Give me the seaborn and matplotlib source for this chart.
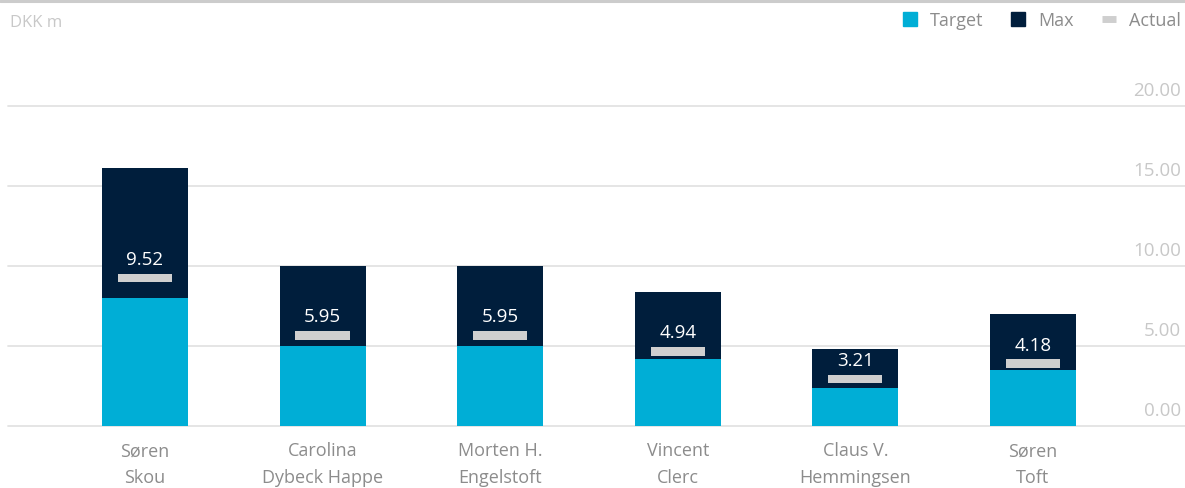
import matplotlib
matplotlib.use("Agg")
import matplotlib.pyplot as plt
from matplotlib.lines import Line2D
import matplotlib.transforms as mtransforms
import pandas as pd
import seaborn as sns

# ---------------------------------------------------------------------------
# Data (DKK m)
# ---------------------------------------------------------------------------
names = ["Søren\nSkou", "Carolina\nDybeck Happe", "Morten H.\nEngelstoft",
         "Vincent\nClerc", "Claus V.\nHemmingsen", "Søren\nToft"]
target = [8.0, 5.0, 5.0, 4.2, 2.4, 3.5]
max_pay = [16.1, 10.0, 10.0, 8.4, 4.8, 7.0]
actual = [9.52, 5.95, 5.95, 4.94, 3.21, 4.18]
y_ticks = [0, 5, 10, 15, 20]

TARGET_C = "#00AED6"
MAX_C = "#001E3C"
ACTUAL_C = "#CFCFCF"
GRID_C = "#E3E3E3"
TICK_C = "#C8C8C8"
LABEL_C = "#8C8C8C"
FONT = ["Open Sans", "DejaVu Sans"]

sns.set_theme(style="white")
plt.rcParams["font.family"] = FONT

df = pd.DataFrame({"name": names, "target": target, "max": max_pay, "actual": actual})

W, H = 1185, 489
fig = plt.figure(figsize=(W / 100, H / 100), dpi=100)
ax = fig.add_axes([8 / W, 62 / H, 1177 / W, 320 / H])

BAR_W = 0.484
sns.barplot(data=df, x="name", y="max", color=MAX_C, width=BAR_W,
            saturation=1, linewidth=0, ax=ax, zorder=3)
sns.barplot(data=df, x="name", y="target", color=TARGET_C, width=BAR_W,
            saturation=1, linewidth=0, ax=ax, zorder=4)

# actual marker: thin light-grey bar sitting just under the value
MARK_H = 0.55
xs = range(len(names))
ax.bar(xs, [MARK_H] * len(names), bottom=[a - MARK_H for a in actual],
       width=BAR_W * 0.63, color=ACTUAL_C, linewidth=0, zorder=5)
for x, a in zip(xs, actual):
    ax.annotate(f"{a:.2f}", (x, a), xytext=(0, 4), textcoords="offset points",
                ha="center", va="bottom", color="white", fontsize=13.5, zorder=6)

ax.set_xlim(-0.771, 5.856)
ax.set_ylim(0, 20)
ax.set_xlabel("")
ax.set_ylabel("")
for s in ax.spines.values():
    s.set_visible(False)

# grid + right-side labels sitting above each line
ax.set_yticks(y_ticks)
ax.set_yticklabels([])
ax.tick_params(axis="y", length=0)
fig_x_data_y = mtransforms.blended_transform_factory(fig.transFigure, ax.transData)
for t in y_ticks:
    ax.axhline(t, color=GRID_C, lw=1.3, zorder=1, clip_on=False)
    ax.annotate(f"{t:.2f}", (1181 / W, t), xycoords=fig_x_data_y,
                xytext=(0, 5), textcoords="offset points",
                ha="right", va="bottom", color=TICK_C, fontsize=13.5)

ax.tick_params(axis="x", length=0, pad=11, labelsize=13, labelcolor=LABEL_C)
for lbl in ax.get_xticklabels():
    lbl.set_linespacing(1.6)

# unit label + top rule
fig.text(10 / W, 1 - 23 / H, "DKK m", color=TICK_C, fontsize=12,
         ha="left", va="center")
fig.add_artist(Line2D([0, 1], [1 - 1.5 / H] * 2, color="#CCCCCC", lw=2.2,
                      transform=fig.transFigure))

handles = [
    Line2D([], [], marker="s", ls="none", color=TARGET_C, markersize=9.5),
    Line2D([], [], marker="s", ls="none", color=MAX_C, markersize=9.5),
    Line2D([], [], ls="-", lw=5, color=ACTUAL_C, solid_capstyle="butt"),
]
leg = fig.legend(handles, ["Target", "Max", "Actual"], ncol=3,
                 loc="upper right", bbox_to_anchor=(1181 / W, 1 - 12 / H),
                 frameon=False, handlelength=0.75, handletextpad=0.75,
                 columnspacing=1.55, fontsize=13, borderaxespad=0, borderpad=0)
for t in leg.get_texts():
    t.set_color(LABEL_C)

fig.savefig("out.png", dpi=100)
